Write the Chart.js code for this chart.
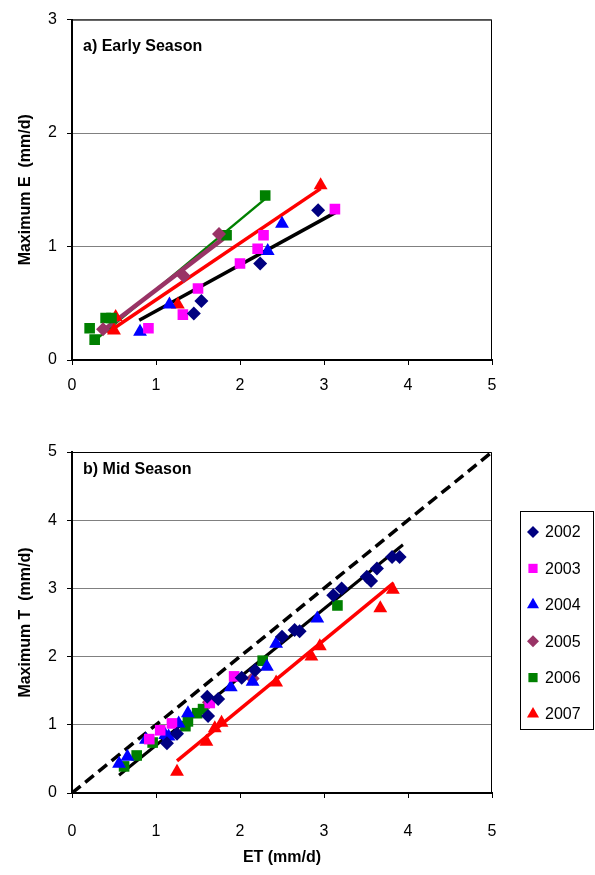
<!DOCTYPE html>
<html>
<head>
<meta charset="utf-8">
<script src="https://cdn.jsdelivr.net/npm/chart.js@4.4.0/dist/chart.umd.min.js"></script>
<style>
  body { margin: 0; background: #fff; }
  #wrap { position: relative; width: 595px; height: 875px; }
  #early { position: absolute; left: 0; top: 0; }
  #mid { position: absolute; left: 0; top: 400px; }
</style>
</head>
<body>
<div id="wrap">
  <canvas id="early" width="595" height="400"></canvas>
  <canvas id="mid" width="595" height="475"></canvas>
</div>
<script>
// years and marker styles
var years = ['2002', '2003', '2004', '2005', '2006', '2007'];
var colors = ['#000080', '#FF00FF', '#0000FF', '#993366', '#008000', '#FF0000'];
var shapes = ['rectRot', 'rect', 'triangle', 'rectRot', 'rect', 'triangle'];
var sizes = [7, 7.5, 8, 7, 7.5, 8];

// a) early season: ET (x) vs maximum E (y)
var earlyX = [
  [1.45, 1.54, 2.24, 2.93],
  [0.91, 1.32, 1.50, 2.00, 2.21, 2.28, 3.13],
  [0.81, 1.16, 2.33, 2.50],
  [0.37, 1.33, 1.75],
  [0.21, 0.27, 0.40, 0.47, 1.84, 2.30],
  [0.50, 0.52, 1.26, 2.96]
];
var earlyY = [
  [0.41, 0.52, 0.85, 1.32],
  [0.28, 0.40, 0.63, 0.85, 0.98, 1.10, 1.33],
  [0.25, 0.49, 0.96, 1.20],
  [0.27, 0.74, 1.11],
  [0.28, 0.18, 0.37, 0.37, 1.10, 1.45],
  [0.26, 0.38, 0.49, 1.54]
];
// fitted lines (start x, start y, end x, end y)
var earlyFitYears = ['2002', '2005', '2006', '2007'];
var earlyFits = [
  [0.80, 0.35, 3.16, 1.31],
  [0.37, 0.26, 1.80, 1.07],
  [0.22, 0.14, 2.30, 1.42],
  [0.42, 0.24, 2.96, 1.51]
];
var earlyFitWidths = [3.5, 4.5, 2.5, 3.5];
var earlyFitColors = ['#000000', '#993366', '#008000', '#FF0000'];

// b) mid season: ET (x) vs maximum T (y)
var midX = [
  [1.13, 1.25, 1.62, 1.61, 1.74, 2.02, 2.18, 2.50, 2.65, 2.71, 3.11, 3.21, 3.51, 3.56, 3.63, 3.81, 3.90],
  [0.92, 1.05, 1.19, 1.64, 1.93],
  [0.56, 0.66, 0.88, 1.11, 1.15, 1.27, 1.38, 1.89, 2.15, 2.32, 2.43, 2.92],
  [1.63, 2.15],
  [0.62, 0.77, 0.96, 1.35, 1.38, 1.49, 1.56, 2.27, 3.16],
  [1.25, 1.60, 1.70, 1.78, 2.43, 2.85, 2.95, 3.67, 3.82]
];
var midY = [
  [0.73, 0.87, 1.13, 1.41, 1.38, 1.69, 1.80, 2.29, 2.39, 2.37, 2.90, 3.00, 3.17, 3.11, 3.29, 3.46, 3.46],
  [0.79, 0.92, 1.02, 1.32, 1.71],
  [0.43, 0.53, 0.78, 0.85, 0.83, 1.02, 1.17, 1.55, 1.63, 1.85, 2.19, 2.56],
  [1.33, 1.68],
  [0.39, 0.55, 0.74, 0.98, 1.05, 1.17, 1.23, 1.94, 2.75],
  [0.31, 0.75, 0.95, 1.03, 1.62, 2.00, 2.15, 2.71, 2.98]
];
var oneToOne = [0, 0, 5, 5];
var midFits = [
  [0.56, 0.26, 3.94, 3.64],
  [1.25, 0.47, 3.83, 3.08]
];
var midFitColors = ['#000000', '#FF0000'];

var xTicks = [0, 1, 2, 3, 4, 5];

Chart.defaults.font.family = '"Liberation Sans", Arial, sans-serif';
Chart.defaults.font.size = 16;
Chart.defaults.color = '#000';

function points(xs, ys) {
  return xs.map(function(x, i){ return {x: x, y: ys[i]}; });
}

function markerSets(xsAll, ysAll) {
  return years.map(function(yr, i){
    return {
      label: yr,
      data: points(xsAll[i], ysAll[i]),
      backgroundColor: colors[i],
      borderWidth: 0,
      pointStyle: shapes[i],
      pointRadius: sizes[i],
      pointHoverRadius: sizes[i],
      isMarker: true
    };
  });
}

function lineSet(seg, color, width, dash) {
  return {
    label: 'fit',
    data: [{x: seg[0], y: seg[1]}, {x: seg[2], y: seg[3]}],
    showLine: true,
    borderColor: color,
    borderWidth: width,
    borderDash: dash || [],
    pointRadius: 0,
    pointHoverRadius: 0
  };
}

var framePlugin = {
  id: 'frame',
  beforeDatasetsDraw: function(chart, args, opts) {
    var ctx = chart.ctx, a = chart.chartArea;
    ctx.save();
    ctx.strokeStyle = '#000';
    ctx.lineWidth = 1;
    ctx.beginPath();
    ctx.moveTo(a.left, a.top + 0.5);
    ctx.lineTo(a.right - 0.5, a.top + 0.5);
    ctx.lineTo(a.right - 0.5, a.bottom);
    ctx.stroke();
    ctx.restore();
  },
  afterDraw: function(chart, args, opts) {
    var ctx = chart.ctx, a = chart.chartArea;
    ctx.save();
    ctx.font = 'bold 16px "Liberation Sans", Arial, sans-serif';
    ctx.fillStyle = '#000';
    ctx.textBaseline = 'middle';
    ctx.fillText(opts.label, a.left + 11, a.top + opts.labelDy);
    if (opts.legend) {
      var lg = opts.legend;
      ctx.strokeStyle = '#000';
      ctx.lineWidth = 1;
      ctx.strokeRect(lg.x + 0.5, lg.y + 0.5, lg.w, lg.h);
      ctx.font = '16px "Liberation Sans", Arial, sans-serif';
      ctx.textBaseline = 'middle';
      var markers = chart.data.datasets.filter(function(d){ return d.isMarker; });
      markers.forEach(function(d, i){
        var cy = lg.y + 21 + i * 36.4;
        ctx.fillStyle = d.backgroundColor;
        Chart.helpers.drawPoint(ctx, {pointStyle: d.pointStyle, radius: d.pointRadius - 1, rotation: 0, borderWidth: 0}, lg.x + 13, cy);
        ctx.fillStyle = '#000';
        ctx.fillText(d.label, lg.x + 25, cy + 1);
      });
    }
    ctx.restore();
  }
};

function makeChart(id, sets, yMax, yTitle, opts) {
  return new Chart(document.getElementById(id), {
    type: 'scatter',
    data: { datasets: sets },
    plugins: [framePlugin],
    options: {
      responsive: false,
      animation: false,
      events: [],
      layout: { padding: { top: opts.top, right: 103, left: 0, bottom: 0 } },
      plugins: {
        legend: { display: false },
        tooltip: { enabled: false },
        frame: { label: opts.label, labelDy: opts.labelDy, legend: opts.legend }
      },
      scales: {
        x: {
          type: 'linear', min: 0, max: 5,
          afterBuildTicks: function(s){ s.ticks = xTicks.map(function(v){ return {value: v}; }); },
          afterFit: function(s){ s.height = opts.xHeight; },
          ticks: { padding: opts.xPad, maxRotation: 0 },
          grid: { drawOnChartArea: false, tickLength: 5, tickColor: '#000' },
          border: { color: '#000', width: 2 },
          title: { display: !!opts.xTitle, text: opts.xTitle, font: { weight: 'bold', size: 16 }, padding: { top: 0, bottom: 8 } }
        },
        y: {
          type: 'linear', min: 0, max: yMax,
          ticks: { stepSize: 1, padding: 10 },
          afterFit: function(s){ s.width = 72; },
          grid: { color: '#808080', lineWidth: 1, tickLength: 5, tickColor: '#000' },
          border: { color: '#000', width: 2 },
          title: { display: true, text: yTitle, font: { weight: 'bold', size: 16 }, padding: { top: 16, bottom: 0 } }
        }
      }
    }
  });
}

var earlySets = markerSets(earlyX, earlyY).concat(earlyFits.map(function(f, i){
  return lineSet(f, earlyFitColors[i], earlyFitWidths[i]);
}));
makeChart('early', earlySets, 3, 'Maximum E  (mm/d)', {
  top: 15, xHeight: 40, xPad: 11, label: 'a) Early Season', labelDy: 27
});

var midSets = markerSets(midX, midY).concat([
  lineSet(oneToOne, '#000000', 3.5, [11, 6]),
  lineSet(midFits[0], midFitColors[0], 3),
  lineSet(midFits[1], midFitColors[1], 3.5)
]);
makeChart('mid', midSets, 5, 'Maximum T  (mm/d)', {
  top: 52, xHeight: 82, xPad: 24, label: 'b) Mid Season', labelDy: 18, xTitle: 'ET (mm/d)',
  legend: { x: 520, y: 111, w: 73, h: 218 }
});
</script>
</body>
</html>
